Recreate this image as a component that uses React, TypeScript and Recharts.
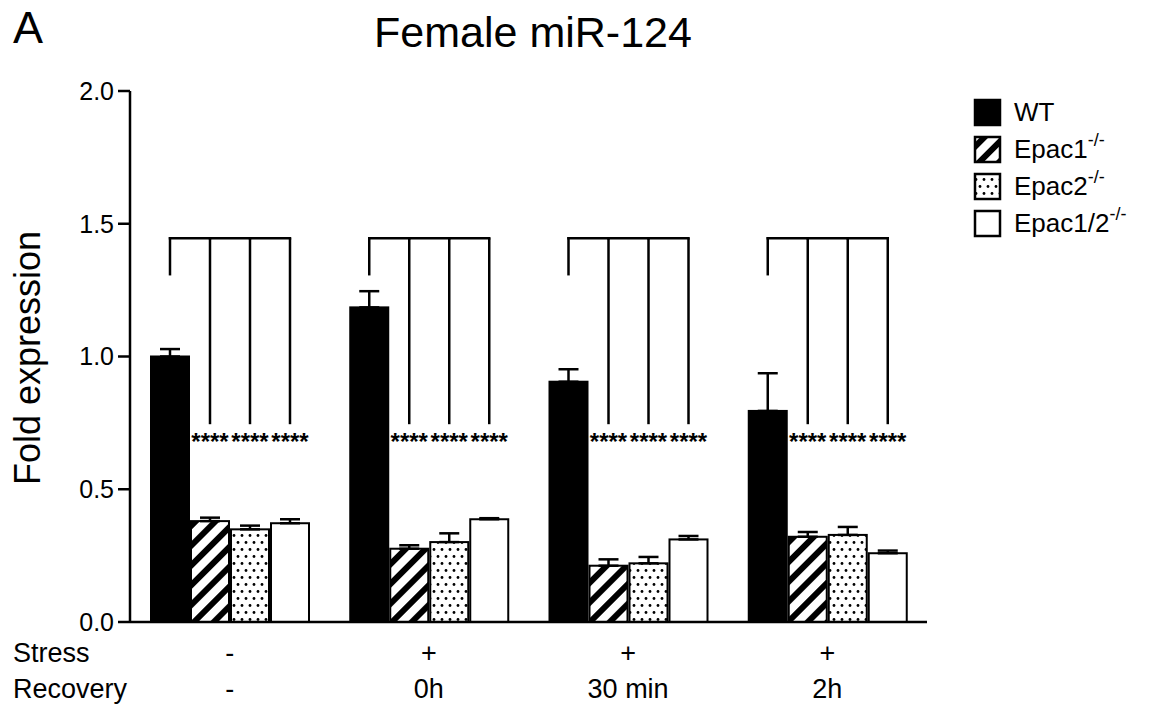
import React from 'react';
import { BarChart, Bar, XAxis, YAxis, ErrorBar, Legend } from 'recharts';

// groups on the x axis
const groups = ['basal', 'stress-0h', 'stress-30min', 'stress-2h'];
const stressLabels = ['-', '+', '+', '+'];
const recoveryLabels = ['-', '0h', '30 min', '2h'];

// fold expression, mean and SEM (upper whisker only)
const wt = [1.0, 1.185, 0.905, 0.795];
const wtErr = [0.028, 0.061, 0.047, 0.142];
const epac1 = [0.38, 0.276, 0.212, 0.321];
const epac1Err = [0.013, 0.013, 0.024, 0.018];
const epac2 = [0.349, 0.301, 0.221, 0.328];
const epac2Err = [0.014, 0.033, 0.024, 0.03];
const epac12 = [0.372, 0.387, 0.311, 0.259];
const epac12Err = [0.015, 0.004, 0.013, 0.01];

const yTicks = [0, 0.5, 1.0, 1.5, 2.0];

// significance brackets (WT vs each knockout)
const bracketTop = 1.445;
const wtLegEnd = 1.31;
const legEnd = 0.745;
const starLevel = 0.7;
const sigLabel = '****';

const FONT = '"Liberation Sans", Arial, sans-serif';
const BAR_SIZE = 38;
const BAR_GAP = 2;

const series = [
  { key: 'wt', name: 'WT', fill: '#000' },
  { key: 'epac1', name: 'Epac1', fill: 'url(#stripes)' },
  { key: 'epac2', name: 'Epac2', fill: 'url(#dots)' },
  { key: 'epac12', name: 'Epac1/2', fill: '#fff' },
];

const data = groups.map((g, i) => ({
  group: g,
  wt: wt[i],
  wtErr: [0, wtErr[i]],
  epac1: epac1[i],
  epac1Err: [0, epac1Err[i]],
  epac2: epac2[i],
  epac2Err: [0, epac2Err[i]],
  epac12: epac12[i],
  epac12Err: [0, epac12Err[i]],
}));

const makeShape = (seriesIndex: number) => (props: any) => {
  const { x, y, width, height, fill, value } = props;
  const v = Array.isArray(value) ? value[1] - value[0] : value;
  const unit = height / v; // px per unit, from the bar itself
  const base = y + height;
  const cx = x + width / 2;
  const yTop = base - bracketTop * unit;
  return (
    <g>
      <rect x={x} y={y} width={width} height={height} fill={fill} stroke="#000" strokeWidth={2} />
      {seriesIndex === 0 ? (
        <line x1={cx} y1={base - wtLegEnd * unit} x2={cx} y2={yTop} stroke="#000" strokeWidth={2.5} strokeLinecap="square" />
      ) : (
        <g>
          <line x1={cx} y1={base - legEnd * unit} x2={cx} y2={yTop} stroke="#000" strokeWidth={2.5} />
          <line x1={cx - width - BAR_GAP} y1={yTop} x2={cx} y2={yTop} stroke="#000" strokeWidth={2.5} strokeLinecap="square" />
          <text x={cx} y={base - starLevel * unit} dy={14} textAnchor="middle" fontFamily={FONT} fontSize={24} fontWeight="bold" fill="#000">
            {sigLabel}
          </text>
        </g>
      )}
    </g>
  );
};

const XTick = (props: any) => {
  const { x, y, payload } = props;
  const i = payload.index;
  return (
    <g fontFamily={FONT} fontSize={27} fill="#000">
      {i === 0 && (
        <g>
          <text x={13} y={y + 40} fill="#000">Stress</text>
          <text x={13} y={y + 76} fill="#000">Recovery</text>
        </g>
      )}
      <text x={x} y={y + 40} textAnchor="middle" fill="#000">{stressLabels[i]}</text>
      <text x={x} y={y + 76} textAnchor="middle" fill="#000">{recoveryLabels[i]}</text>
    </g>
  );
};

const renderLegend = () => (
  <svg width={182} height={150} style={{ display: 'block' }}>
    {series.map((s, i) => {
      const cy = 20 + i * 37;
      return (
        <g key={s.key}>
          <rect x={9} y={cy - 12} width={25} height={25} fill={s.fill} stroke="#000" strokeWidth={2.5} />
          <text x={48} y={cy + 9} fontFamily={FONT} fontSize={26} fill="#000">
            {s.name}
            {i > 0 && (
              <tspan fontSize={18} dy={-12}>-/-</tspan>
            )}
          </text>
        </g>
      );
    })}
  </svg>
);

export default function App() {
  return (
    <div style={{ position: 'fixed', left: 0, top: 0, width: 1150, height: 706, background: '#fff' }}>
      <svg width={0} height={0} style={{ position: 'absolute' }}>
        <defs>
          <pattern id="stripes" patternUnits="userSpaceOnUse" width={14} height={14} patternTransform="rotate(45)">
            <rect x={0} y={0} width={14} height={14} fill="#fff" />
            <rect x={0} y={0} width={6} height={14} fill="#000" />
          </pattern>
          <pattern id="dots" patternUnits="userSpaceOnUse" width={8} height={14}>
            <rect x={0} y={0} width={8} height={14} fill="#fff" />
            <circle cx={2} cy={3.5} r={1.4} fill="#000" />
            <circle cx={6} cy={10.5} r={1.4} fill="#000" />
          </pattern>
        </defs>
      </svg>
      <BarChart
        width={1150}
        height={706}
        data={data}
        margin={{ top: 91, right: 223, bottom: 0, left: 70 }}
        barSize={BAR_SIZE}
        barGap={BAR_GAP}
      >
        <XAxis
          dataKey="group"
          height={84}
          tickSize={0}
          tickMargin={0}
          tickLine={false}
          axisLine={{ stroke: '#000', strokeWidth: 2.5 }}
          tick={<XTick />}
          interval={0}
        />
        <YAxis
          width={60}
          domain={[0, 2]}
          ticks={yTicks}
          tickFormatter={(v: number) => v.toFixed(1)}
          tickSize={12}
          tickMargin={4}
          axisLine={{ stroke: '#000', strokeWidth: 2.5 }}
          tickLine={{ stroke: '#000', strokeWidth: 2.5 }}
          tick={{ fill: '#000', fontSize: 25, fontFamily: FONT }}
        />
        <Legend
          layout="vertical"
          align="center"
          verticalAlign="middle"
          wrapperStyle={{ left: 966, top: 92, width: 182 }}
          content={renderLegend}
        />
        {series.map((s, i) => (
          <Bar key={s.key} dataKey={s.key} name={s.name} fill={s.fill} isAnimationActive={false} shape={makeShape(i)}>
            <ErrorBar dataKey={`${s.key}Err`} direction="y" width={10} stroke="#000" strokeWidth={2.5} />
          </Bar>
        ))}
      </BarChart>
      <svg width={1150} height={706} style={{ position: 'absolute', left: 0, top: 0, pointerEvents: 'none' }}>
        <text x={13} y={43} fontFamily={FONT} fontSize={45} fill="#000">A</text>
        <text x={533} y={47} textAnchor="middle" fontFamily={FONT} fontSize={43} fill="#000">Female miR-124</text>
        <text x={40} y={358} transform="rotate(-90, 40, 358)" textAnchor="middle" fontFamily={FONT} fontSize={36} fill="#000">
          Fold expression
        </text>
      </svg>
    </div>
  );
}
